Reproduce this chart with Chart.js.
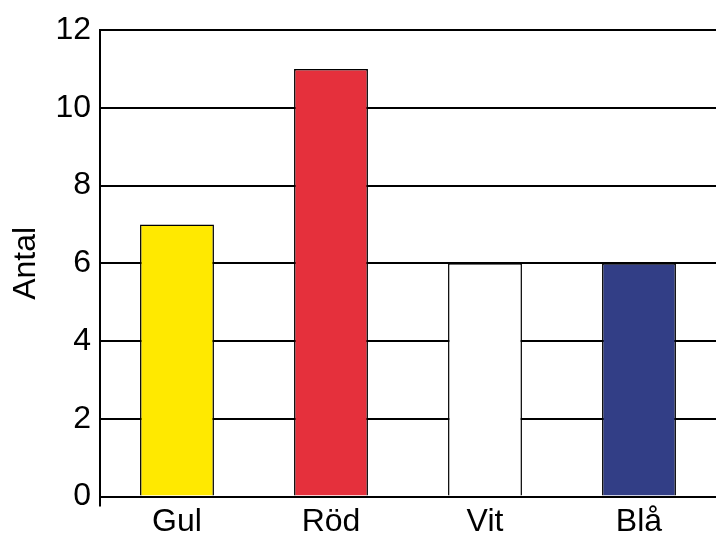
<!DOCTYPE html>
<html lang="sv">
<head>
  <meta charset="UTF-8">
  <title>Antal</title>
  <style>
    html, body { margin: 0; padding: 0; background: #fff; }
    #wrap { width: 716px; height: 537px; }
  </style>
</head>
<body>
  <div id="wrap"><canvas id="myChart" width="716" height="537"></canvas></div>
  <script src="https://cdn.jsdelivr.net/npm/chart.js"></script>
  <script>
    const kategorier = ['Gul', 'Röd', 'Vit', 'Blå'];
    const antal = [7, 11, 6, 6];
    const farger = ['#FFE900', '#E5303C', '#FFFFFF', '#323E86'];
    const yMax = 12;
    const yStep = 2;

    const ctx = document.getElementById('myChart');

    new Chart(ctx, {
      type: 'bar',
      data: {
        labels: kategorier,
        datasets: [{
          label: 'Antal',
          data: antal,
          backgroundColor: farger,
          borderColor: '#000',
          borderWidth: 1.5,
          barPercentage: 0.96,
          categoryPercentage: 0.5
        }]
      },
      options: {
        responsive: false,
        animation: false,
        layout: { padding: { top: 30, right: 0, bottom: 0, left: 0 } },
        plugins: {
          legend: { display: false },
          tooltip: { enabled: false }
        },
        scales: {
          x: {
            grid: {
              offset: true,
              color: (c) => c.index === 0 ? '#000' : 'rgba(0,0,0,0)',
              lineWidth: 2,
              tickLength: 10
            },
            border: { display: false },
            ticks: {
              color: '#000',
              padding: -4,
              font: { size: 32, family: 'Liberation Sans' }
            }
          },
          y: {
            min: 0,
            max: yMax,
            ticks: {
              stepSize: yStep,
              color: '#000',
              padding: 9,
              font: { size: 32, family: 'Liberation Sans' }
            },
            grid: {
              color: '#000',
              lineWidth: 2,
              drawTicks: false
            },
            border: { display: true, color: '#000', width: 2 },
            title: {
              display: true,
              text: 'Antal',
              color: '#000',
              padding: { top: 7, bottom: 1 },
              font: { size: 32, family: 'Liberation Sans' }
            }
          }
        }
      }
    });
  </script>
</body>
</html>
